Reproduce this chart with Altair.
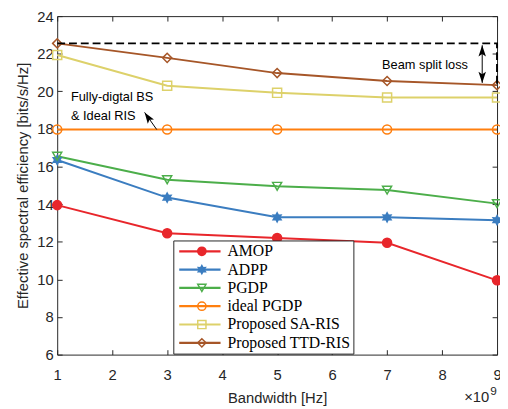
import math
import altair as alt
import pandas as pd

# ---------------- data ----------------
bandwidth = [1, 3, 5, 7, 9]
series_names = ["AMOP", "ADPP", "PGDP", "ideal PGDP", "Proposed SA-RIS", "Proposed TTD-RIS"]
amop = [13.95, 12.45, 12.2, 11.95, 9.95]
adpp = [16.35, 14.35, 13.3, 13.3, 13.15]
pgdp = [16.55, 15.3, 14.95, 14.75, 14.03]
ideal_pgdp = [17.97, 17.97, 17.97, 17.97, 17.97]
sa_ris = [21.93, 20.3, 19.92, 19.67, 19.67]
ttd_ris = [22.55, 21.78, 20.97, 20.55, 20.33]
x_ticks = [1, 2, 3, 4, 5, 6, 7, 8, 9]
y_ticks = [6, 8, 10, 12, 14, 16, 18, 20, 22, 24]

# reference level (fully digital) and beam split loss annotation
ref_x = [1, 9, 9]
ref_y = [22.55, 22.55, 20.35]
ref_order = [0, 1, 2]

# ---------------- styles ----------------
colors = ["#e8262b", "#3b7dc0", "#4cae4a", "#ff7f0e", "#ddd16a", "#a65628"]
fills = ["#e8262b", "#3b7dc0", "transparent", "transparent", "transparent", "transparent"]


def star_path(n=6, r_out=1.0, r_in=0.55):
    pts = []
    for k in range(2 * n):
        a = -math.pi / 2 + k * math.pi / n
        r = r_out if k % 2 == 0 else r_in
        pts.append(f"{r * math.cos(a):.3f},{r * math.sin(a):.3f}")
    return "M" + "L".join(pts) + "Z"


shapes = ["circle", star_path(), "triangle-down", "circle", "square", "diamond"]
arrow_head = "M0,0L0.6,1.8L0,1.4L-0.6,1.8Z"

rows = []
for name, vals in zip(series_names, [amop, adpp, pgdp, ideal_pgdp, sa_ris, ttd_ris]):
    for b, v in zip(bandwidth, vals):
        rows.append({"bw": b, "se": v, "series": name, "series_pt": name + " "})
df = pd.DataFrame(rows)
pt_domain = [n + " " for n in series_names]

ref_df = pd.DataFrame({"bw": ref_x, "se": ref_y, "o": ref_order})
rule_df = pd.DataFrame({"x": [8.73, 2.81], "y": [22.45, 17.97], "x2": [8.73, 2.59], "y2": [20.45, 18.88]})
head_df = pd.DataFrame({"x": [8.73, 8.73, 2.59], "y": [22.45, 20.45, 18.88], "a": [0, 180, 326]})
text_df = pd.DataFrame({
    "x": [7.69, 1.25, 1.25],
    "y": [21.42, 19.67, 18.68],
    "t": ["Beam split loss", "Fully-digtal BS", "& Ideal RIS"],
    "al": ["center", "left", "left"],
})

FONT = "Liberation Sans"
AX = "#262626"
xscale = alt.Scale(domain=[1, 9], nice=False, zero=False)
yscale = alt.Scale(domain=[6, 24], nice=False, zero=False)

x_bottom = alt.Axis(values=x_ticks, orient="bottom", offset=-5, tickSize=5, tickColor=AX,
                    labelFont=FONT, labelFontSize=15, labelColor=AX, labelPadding=13,
                    labelFlush=False, title="Bandwidth [Hz]", titleFont=FONT, titleFontSize=15,
                    titleFontWeight="normal", titleColor=AX, titlePadding=9, grid=False, domain=False)
y_left = alt.Axis(values=y_ticks, orient="left", offset=-5, tickSize=5, tickColor=AX,
                  labelFont=FONT, labelFontSize=15, labelColor=AX, labelPadding=4,
                  labelFlush=False, title="Effective spectral efficiency [bits/s/Hz]",
                  titleFont=FONT, titleFontSize=15, titleFontWeight="normal", titleColor=AX,
                  titlePadding=6, grid=False, domain=False)
x_top = alt.Axis(values=x_ticks, orient="top", offset=-5, tickSize=5, tickColor=AX,
                 labels=False, title=None, grid=False, domain=False)
y_right = alt.Axis(values=y_ticks, orient="right", offset=-5, tickSize=5, tickColor=AX,
                   labels=False, title=None, grid=False, domain=False)

line_legend = alt.Legend(orient="none", legendX=118, legendY=228, title=None,
                         symbolType="M-4.2,0L4.2,0", symbolSize=100, symbolStrokeWidth=2.2,
                         symbolOffset=16, labelOffset=20,
                         labelFont="Liberation Serif", labelFontSize=16, labelColor="black",
                         fillColor="white", strokeColor=AX, padding=3, rowPadding=2.6)
point_legend = alt.Legend(orient="none", legendX=136, legendY=228, title=None,
                          symbolSize=70, symbolStrokeWidth=1.5,
                          labelFont="Liberation Serif", labelFontSize=16, labelExpr="''",
                          padding=3, rowPadding=2.6)

base = alt.Chart(df)

lines = base.mark_line(strokeWidth=2).encode(
    x=alt.X("bw:Q", scale=xscale, axis=x_bottom),
    y=alt.Y("se:Q", scale=yscale, axis=y_left),
    color=alt.Color("series:N", scale=alt.Scale(domain=series_names, range=colors), legend=line_legend),
)

points = base.mark_point(size=85, strokeWidth=1.5, opacity=1).encode(
    x=alt.X("bw:Q", scale=xscale, axis=None),
    y=alt.Y("se:Q", scale=yscale, axis=None),
    stroke=alt.Stroke("series_pt:N", scale=alt.Scale(domain=pt_domain, range=colors), legend=point_legend),
    fill=alt.Fill("series_pt:N", scale=alt.Scale(domain=pt_domain, range=fills), legend=point_legend),
    shape=alt.Shape("series_pt:N", scale=alt.Scale(domain=pt_domain, range=shapes), legend=point_legend),
)

ref_line = alt.Chart(ref_df).mark_line(color="black", strokeWidth=2, strokeDash=[8, 4]).encode(
    x=alt.X("bw:Q", scale=xscale, axis=x_top),
    y=alt.Y("se:Q", scale=yscale, axis=y_right),
    order="o:Q",
)

rules = alt.Chart(rule_df).mark_rule(color="black", strokeWidth=1).encode(
    x=alt.X("x:Q", scale=xscale, axis=None),
    y=alt.Y("y:Q", scale=yscale, axis=None),
    x2="x2:Q",
    y2="y2:Q",
)

heads = alt.Chart(head_df).mark_point(shape=arrow_head, filled=True, color="black", size=160, opacity=1).encode(
    x=alt.X("x:Q", scale=xscale, axis=None),
    y=alt.Y("y:Q", scale=yscale, axis=None),
    angle=alt.Angle("a:Q", scale=None),
)

texts_c = alt.Chart(text_df).transform_filter("datum.al == 'center'").mark_text(
    font=FONT, fontSize=13, color="black", align="center", baseline="middle").encode(
    x=alt.X("x:Q", scale=xscale, axis=None),
    y=alt.Y("y:Q", scale=yscale, axis=None),
    text="t:N",
)
texts_l = alt.Chart(text_df).transform_filter("datum.al == 'left'").mark_text(
    font=FONT, fontSize=13, color="black", align="left", baseline="middle").encode(
    x=alt.X("x:Q", scale=xscale, axis=None),
    y=alt.Y("y:Q", scale=yscale, axis=None),
    text="t:N",
)

exp_df = pd.DataFrame({"x": [9], "y": [6], "t": ["×10"], "e": ["9"]})
exp_base = alt.Chart(exp_df).mark_text(
    font=FONT, fontSize=15, color=AX, align="right", baseline="middle", dy=43, dx=-8).encode(
    x=alt.X("x:Q", scale=xscale, axis=None),
    y=alt.Y("y:Q", scale=yscale, axis=None),
    text="t:N",
)
exp_sup = alt.Chart(exp_df).mark_text(
    font=FONT, fontSize=12, color=AX, align="left", baseline="middle", dy=37, dx=-7).encode(
    x=alt.X("x:Q", scale=xscale, axis=None),
    y=alt.Y("y:Q", scale=yscale, axis=None),
    text="e:N",
)

chart = alt.layer(lines, points, ref_line, rules, heads, texts_c, texts_l, exp_base, exp_sup).resolve_axis(
    x="independent", y="independent"
).properties(
    width=447, height=344,
    autosize=alt.AutoSizeParams(type="none"),
    padding={"left": 50, "top": 5, "right": 3, "bottom": 51},
    background="white",
).configure_view(stroke=AX, strokeWidth=1)

chart.save("out.html", embed_options={"renderer": "svg", "actions": False})
